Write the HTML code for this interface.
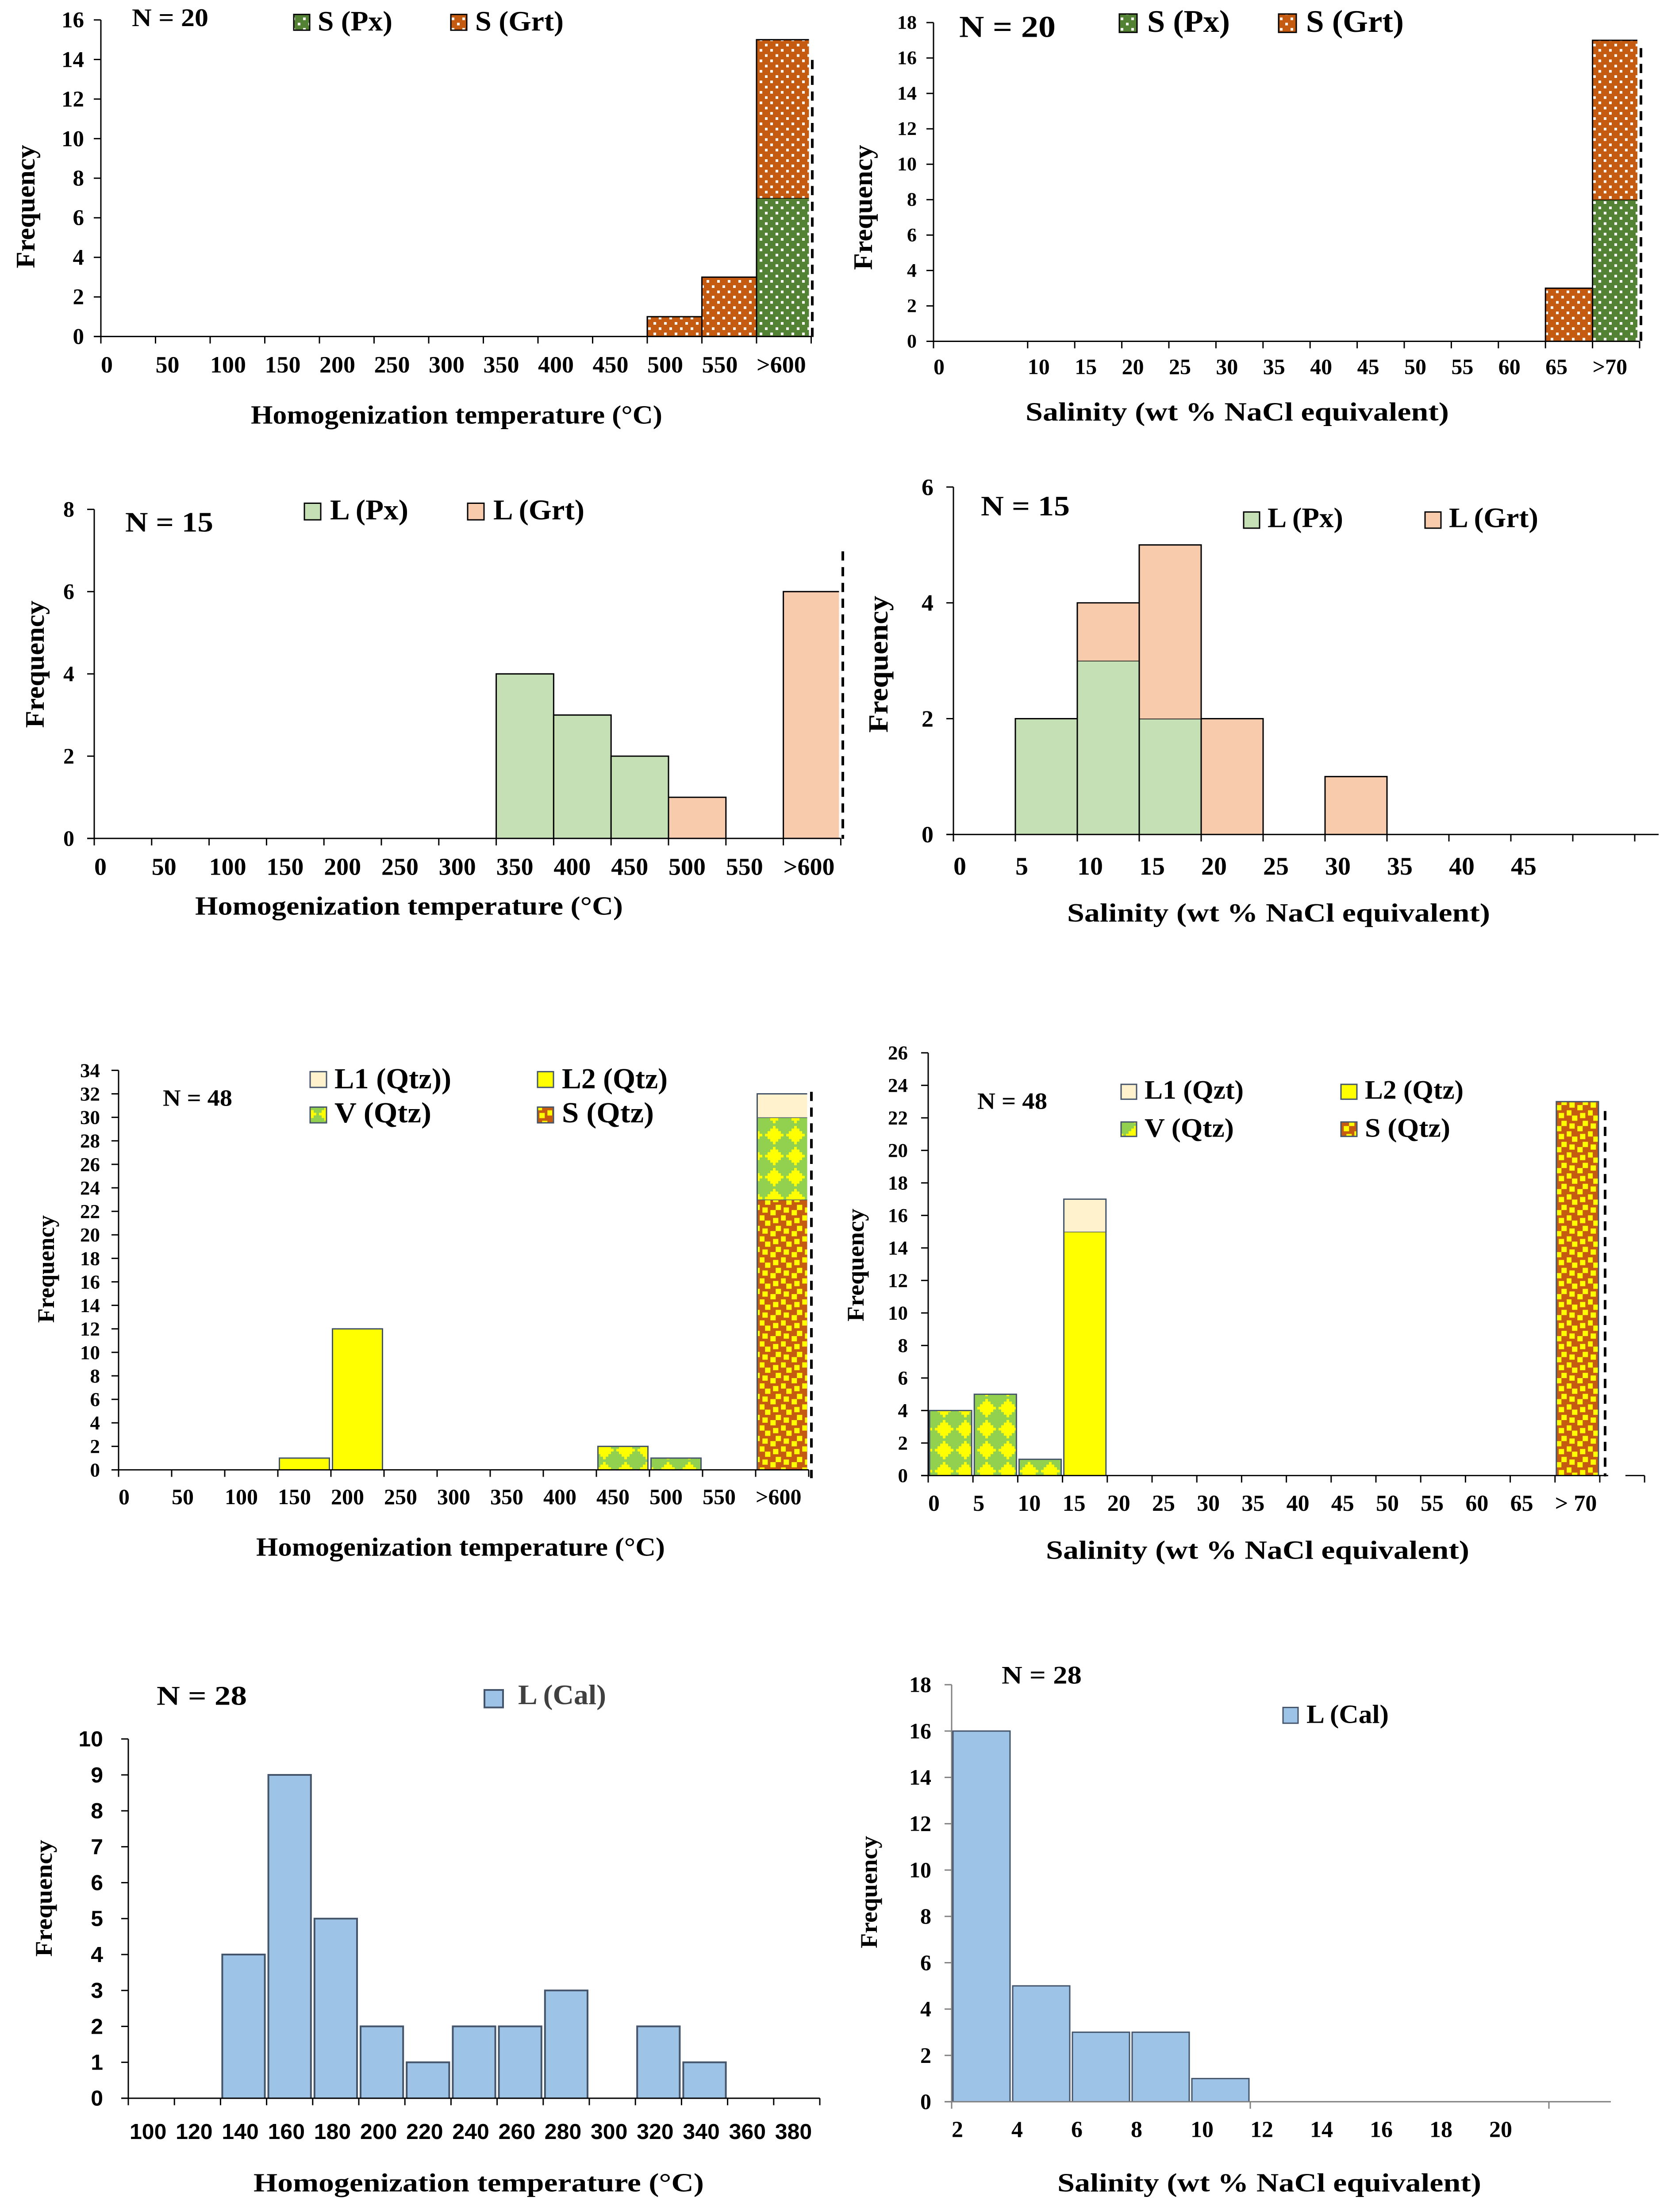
<!DOCTYPE html>
<html lang="en">
<head>
<meta charset="utf-8">
<title>Fluid inclusion histograms</title>
<style>
html,body{margin:0;padding:0;background:#fff;width:100%;height:100%;overflow:hidden;}
svg{display:block;width:100vw;height:100vh;}
text{font-family:"Liberation Serif",serif;font-weight:bold;fill:#000;dominant-baseline:central;}
.sans{font-family:"Liberation Sans",sans-serif;}
.gray{fill:#404040;}
</style>
</head>
<body>
<svg id="figure" xmlns="http://www.w3.org/2000/svg" viewBox="0 0 3786 5055" preserveAspectRatio="none">
<defs>
<pattern id="dots-orange" patternUnits="userSpaceOnUse" width="24" height="24">
<rect width="24" height="24" fill="#C55A11"/><rect x="13" y="16" width="6" height="6" fill="#fff"/><rect x="1" y="4" width="6" height="6" fill="#fff"/>
</pattern>
<pattern id="dots-green" patternUnits="userSpaceOnUse" width="24" height="24">
<rect width="24" height="24" fill="#548235"/><rect x="13" y="16" width="6" height="6" fill="#fff"/><rect x="1" y="4" width="6" height="6" fill="#fff"/>
</pattern>
<pattern id="diamonds" patternUnits="userSpaceOnUse" width="48" height="48" x="-2" y="-22">
<rect width="48" height="48" fill="#92D050"/>
<g fill="#FFFF00"><rect x="3" y="21" width="42" height="6"/><rect x="9" y="15" width="30" height="18"/><rect x="15" y="9" width="18" height="30"/><rect x="21" y="3" width="6" height="42"/></g>
</pattern>
<pattern id="squares" patternUnits="userSpaceOnUse" width="48" height="48">
<rect width="48" height="48" fill="#C55A11"/>
<g fill="#FFFF00"><rect x="43.3" y="23.3" width="12" height="12"/><rect x="-4.7" y="23.3" width="12" height="12"/><rect x="13.3" y="29.3" width="12" height="12"/><rect x="25.3" y="17.3" width="12" height="12"/><rect x="37.3" y="41.3" width="12" height="12"/><rect x="37.3" y="-6.7" width="12" height="12"/><rect x="1.3" y="5.3" width="12" height="12"/><rect x="19.3" y="47.3" width="12" height="12"/><rect x="19.3" y="-0.7" width="12" height="12"/></g>
</pattern>
</defs>
<rect width="3786" height="5055" fill="#fff"/>

<g id="chart-1">
<text transform="translate(58,472) rotate(-90)" text-anchor="middle" font-size="60" textLength="282" lengthAdjust="spacingAndGlyphs">Frequency</text>
<text x="567" y="948" font-size="60" textLength="930" lengthAdjust="spacingAndGlyphs">Homogenization temperature (°C)</text>
<text x="298" y="41" font-size="58" textLength="173" lengthAdjust="spacingAndGlyphs">N = 20</text>
<rect x="664" y="33" width="36" height="36" fill="url(#dots-green)" stroke="#000" stroke-width="3"/>
<text x="718" y="48" font-size="64" textLength="169" lengthAdjust="spacingAndGlyphs">S (Px)</text>
<rect x="1019" y="33" width="36" height="36" fill="url(#dots-orange)" stroke="#000" stroke-width="3"/>
<text x="1074" y="48" font-size="64" textLength="200" lengthAdjust="spacingAndGlyphs">S (Grt)</text>
</g>

<g id="chart-2">
<text transform="translate(1951,474) rotate(-90)" text-anchor="middle" font-size="60" textLength="286" lengthAdjust="spacingAndGlyphs">Frequency</text>
<text x="2318" y="941" font-size="60" textLength="957" lengthAdjust="spacingAndGlyphs">Salinity (wt % NaCl equivalent)</text>
<text x="2168" y="62" font-size="70" textLength="218" lengthAdjust="spacingAndGlyphs">N = 20</text>
<rect x="2530" y="32" width="40" height="42" fill="url(#dots-green)" stroke="#000" stroke-width="3"/>
<text x="2593" y="49" font-size="72" textLength="187" lengthAdjust="spacingAndGlyphs">S (Px)</text>
<rect x="2890" y="32" width="40" height="42" fill="url(#dots-orange)" stroke="#000" stroke-width="3"/>
<text x="2952" y="49" font-size="72" textLength="221" lengthAdjust="spacingAndGlyphs">S (Grt)</text>
</g>

<g id="chart-3">
<text transform="translate(79,1518) rotate(-90)" text-anchor="middle" font-size="60" textLength="291" lengthAdjust="spacingAndGlyphs">Frequency</text>
<text x="441" y="2070" font-size="60" textLength="967" lengthAdjust="spacingAndGlyphs">Homogenization temperature (°C)</text>
<text x="283" y="1193" font-size="64" textLength="199" lengthAdjust="spacingAndGlyphs">N = 15</text>
<rect x="688" y="1150" width="37" height="38" fill="#C5E0B4" stroke="#000" stroke-width="3"/>
<text x="746" y="1165" font-size="65" textLength="177" lengthAdjust="spacingAndGlyphs">L (Px)</text>
<rect x="1057" y="1150" width="37" height="38" fill="#F8CBAD" stroke="#000" stroke-width="3"/>
<text x="1115" y="1165" font-size="65" textLength="206" lengthAdjust="spacingAndGlyphs">L (Grt)</text>
</g>

<g id="chart-4">
<text transform="translate(1986,1518) rotate(-90)" text-anchor="middle" font-size="62" textLength="313" lengthAdjust="spacingAndGlyphs">Frequency</text>
<text x="2412" y="2086" font-size="60" textLength="956" lengthAdjust="spacingAndGlyphs">Salinity (wt % NaCl equivalent)</text>
<text x="2217" y="1156" font-size="64" textLength="201" lengthAdjust="spacingAndGlyphs">N = 15</text>
<rect x="2811" y="1170" width="36" height="37" fill="#C5E0B4" stroke="#000" stroke-width="3"/>
<text x="2865" y="1183" font-size="64" textLength="171" lengthAdjust="spacingAndGlyphs">L (Px)</text>
<rect x="3221" y="1170" width="36" height="37" fill="#F8CBAD" stroke="#000" stroke-width="3"/>
<text x="3275" y="1183" font-size="64" textLength="202" lengthAdjust="spacingAndGlyphs">L (Grt)</text>
</g>

<g id="chart-5">
<text transform="translate(104,2900) rotate(-90)" text-anchor="middle" font-size="54" textLength="246" lengthAdjust="spacingAndGlyphs">Frequency</text>
<text x="579" y="3535" font-size="60" textLength="924" lengthAdjust="spacingAndGlyphs">Homogenization temperature (°C)</text>
<text x="368" y="2509" font-size="54" textLength="157" lengthAdjust="spacingAndGlyphs">N = 48</text>
<rect x="701" y="2449" width="37" height="36" fill="#FFF2CC" stroke="#44546A" stroke-width="3"/>
<text x="756" y="2466" font-size="66" textLength="264" lengthAdjust="spacingAndGlyphs">L1 (Qtz))</text>
<rect x="1215" y="2449" width="36" height="36" fill="#FFFF00" stroke="#44546A" stroke-width="3"/>
<text x="1270" y="2466" font-size="66" textLength="239" lengthAdjust="spacingAndGlyphs">L2 (Qtz)</text>
<rect x="701" y="2530" width="37" height="36" fill="url(#diamonds)" stroke="#44546A" stroke-width="3"/>
<text x="756" y="2544" font-size="66" textLength="219" lengthAdjust="spacingAndGlyphs">V (Qtz)</text>
<rect x="1215" y="2530" width="36" height="36" fill="url(#squares)" stroke="#44546A" stroke-width="3"/>
<text x="1270" y="2544" font-size="66" textLength="208" lengthAdjust="spacingAndGlyphs">S (Qtz)</text>
</g>

<g id="chart-6">
<text transform="translate(1934,2891) rotate(-90)" text-anchor="middle" font-size="54" textLength="258" lengthAdjust="spacingAndGlyphs">Frequency</text>
<text x="2364" y="3542" font-size="60" textLength="957" lengthAdjust="spacingAndGlyphs">Salinity (wt % NaCl equivalent)</text>
<text x="2209" y="2516" font-size="54" textLength="158" lengthAdjust="spacingAndGlyphs">N = 48</text>
<rect x="2534" y="2478" width="35" height="34" fill="#FFF2CC" stroke="#44546A" stroke-width="3"/>
<text x="2587" y="2491" font-size="61" textLength="224" lengthAdjust="spacingAndGlyphs">L1 (Qzt)</text>
<rect x="3031" y="2478" width="36" height="34" fill="#FFFF00" stroke="#44546A" stroke-width="3"/>
<text x="3085" y="2491" font-size="61" textLength="223" lengthAdjust="spacingAndGlyphs">L2 (Qtz)</text>
<rect x="2534" y="2564" width="35" height="33" fill="url(#diamonds)" stroke="#44546A" stroke-width="3"/>
<text x="2587" y="2578" font-size="61" textLength="202" lengthAdjust="spacingAndGlyphs">V (Qtz)</text>
<rect x="3031" y="2564" width="36" height="33" fill="url(#squares)" stroke="#44546A" stroke-width="3"/>
<text x="3085" y="2578" font-size="61" textLength="193" lengthAdjust="spacingAndGlyphs">S (Qtz)</text>
</g>

<g id="chart-7">
<text transform="translate(99,4338) rotate(-90)" text-anchor="middle" font-size="54" textLength="267" lengthAdjust="spacingAndGlyphs">Frequency</text>
<text x="573" y="4988" font-size="60" textLength="1018" lengthAdjust="spacingAndGlyphs">Homogenization temperature (°C)</text>
<text x="354" y="3876" font-size="62" textLength="204" lengthAdjust="spacingAndGlyphs">N = 28</text>
<rect x="1095" y="3862" width="42" height="40" fill="#9DC3E6" stroke="#44546A" stroke-width="4"/>
<text class="gray" x="1171" y="3873" font-size="64" textLength="199" lengthAdjust="spacingAndGlyphs">L (Cal)</text>
</g>

<g id="chart-8">
<text transform="translate(1964,4324) rotate(-90)" text-anchor="middle" font-size="54" textLength="257" lengthAdjust="spacingAndGlyphs">Frequency</text>
<text x="2390" y="4988" font-size="60" textLength="958" lengthAdjust="spacingAndGlyphs">Salinity (wt % NaCl equivalent)</text>
<text x="2264" y="3829" font-size="58" textLength="181" lengthAdjust="spacingAndGlyphs">N = 28</text>
<rect x="2900" y="3902" width="34" height="36" fill="#9DC3E6" stroke="#44546A" stroke-width="3"/>
<text x="2953" y="3917" font-size="60" textLength="186" lengthAdjust="spacingAndGlyphs">L (Cal)</text>
</g>
</svg>

<script>
// ---- Chart data ----
const chart1Bins = ['0','50','100','150','200','250','300','350','400','450','500','550','>600'];
const chart1YTicks = [0,2,4,6,8,10,12,14,16];
const chart1SPx = [0,0,0,0,0,0,0,0,0,0,0,0,7];
const chart1SGrt = [0,0,0,0,0,0,0,0,0,0,1,3,8];

const chart2Bins = ['0','','10','15','20','25','30','35','40','45','50','55','60','65','>70'];
const chart2YTicks = [0,2,4,6,8,10,12,14,16,18];
const chart2SPx = [0,0,0,0,0,0,0,0,0,0,0,0,0,0,8];
const chart2SGrt = [0,0,0,0,0,0,0,0,0,0,0,0,0,3,9];

const chart3Bins = ['0','50','100','150','200','250','300','350','400','450','500','550','>600'];
const chart3YTicks = [0,2,4,6,8];
const chart3LPx = [0,0,0,0,0,0,0,4,3,2,0,0,0];
const chart3LGrt = [0,0,0,0,0,0,0,0,0,0,1,0,6];

const chart4Bins = ['0','5','10','15','20','25','30','35','40','45','',''];
const chart4YTicks = [0,2,4,6];
const chart4LPx = [0,2,3,2,0,0,0,0,0,0,0];
const chart4LGrt = [0,0,1,3,2,0,1,0,0,0,0];

const chart5Bins = ['0','50','100','150','200','250','300','350','400','450','500','550','>600'];
const chart5YTicks = [0,2,4,6,8,10,12,14,16,18,20,22,24,26,28,30,32,34];
const chart5SQtz = [0,0,0,0,0,0,0,0,0,0,0,0,23];
const chart5VQtz = [0,0,0,0,0,0,0,0,0,2,1,0,7];
const chart5L2Qtz = [0,0,0,1,12,0,0,0,0,0,0,0,0];
const chart5L1Qtz = [0,0,0,0,0,0,0,0,0,0,0,0,2];

const chart6Bins = ['0','5','10','15','20','25','30','35','40','45','50','55','60','65','> 70',''];
const chart6YTicks = [0,2,4,6,8,10,12,14,16,18,20,22,24,26];
const chart6SQtz = [0,0,0,0,0,0,0,0,0,0,0,0,0,0,23,0];
const chart6VQtz = [4,5,1,0,0,0,0,0,0,0,0,0,0,0,0,0];
const chart6L2Qtz = [0,0,0,15,0,0,0,0,0,0,0,0,0,0,0,0];
const chart6L1Qtz = [0,0,0,2,0,0,0,0,0,0,0,0,0,0,0,0];

const chart7Bins = ['100','120','140','160','180','200','220','240','260','280','300','320','340','360','380'];
const chart7YTicks = [0,1,2,3,4,5,6,7,8,9,10];
const chart7LCal = [0,0,4,9,5,2,1,2,2,3,0,2,1,0,0];

const chart8Bins = ['2','4','6','8','10','12','14','16','18','20'];
const chart8YTicks = [0,2,4,6,8,10,12,14,16,18];
const chart8LCal = [16,5,3,3,1,0,0,0,0,0];

// ---- Chart layouts (axis geometry and styling) ----
const charts = [
 {id:'chart-1',labels:chart1Bins,yTicks:chart1YTicks,x0:228,step:123.5,bins:13,y0:769,yTop:45.5,
  series:[{name:'s-px',values:chart1SPx,fill:'url(#dots-green)'},{name:'s-grt',values:chart1SGrt,fill:'url(#dots-orange)'}],
  xFont:54,yFont:51,yRight:190,xLabelY:833,gap:0,lastTrim:5,openLast:true,stroke:'#000',sw:3,axis:'#000',
  dash:{x:1836,y1:137,y2:772}},
 {id:'chart-2',labels:chart2Bins,yTicks:chart2YTicks,x0:2110,step:106.4,bins:15,y0:780,yTop:51.6,skipTick:[1],
  series:[{name:'s-px',values:chart2SPx,fill:'url(#dots-green)'},{name:'s-grt',values:chart2SGrt,fill:'url(#dots-orange)'}],
  xFont:50,yFont:44,yRight:2072,xLabelY:838,gap:0,lastTrim:5,openLast:true,stroke:'#000',sw:3,axis:'#000',
  dash:{x:3709,y1:110,y2:783}},
 {id:'chart-3',labels:chart3Bins,yTicks:chart3YTicks,x0:213,step:129.8,bins:13,y0:1916,yTop:1164,
  series:[{name:'l-px',values:chart3LPx,fill:'#C5E0B4'},{name:'l-grt',values:chart3LGrt,fill:'#F8CBAD'}],
  xFont:56,yFont:50,yRight:168,xLabelY:1981,gap:0,lastTrim:4,openLast:true,stroke:'#000',sw:3,axis:'#000',
  dash:{x:1905,y1:1260,y2:1917}},
 {id:'chart-4',labels:chart4Bins,yTicks:chart4YTicks,x0:2155,step:140,bins:11,y0:1907,yTop:1113,axisEnd:3749,
  series:[{name:'l-px',values:chart4LPx,fill:'#C5E0B4'},{name:'l-grt',values:chart4LGrt,fill:'#F8CBAD'}],
  xFont:58,yFont:54,yRight:2110,xLabelY:1980,gap:0,lastTrim:0,openLast:false,stroke:'#000',sw:3,axis:'#000'},
 {id:'chart-5',labels:chart5Bins,yTicks:chart5YTicks,x0:268,step:120,bins:13,y0:3359,yTop:2446,
  series:[{name:'s-qtz',values:chart5SQtz,fill:'url(#squares)'},{name:'v-qtz',values:chart5VQtz,fill:'url(#diamonds)'},{name:'l2-qtz',values:chart5L2Qtz,fill:'#FFFF00'},{name:'l1-qtz',values:chart5L1Qtz,fill:'#FFF2CC'}],
  xFont:50,yFont:45,yRight:226,xLabelY:3421,gap:3.5,lastTrim:0,openLast:true,stroke:'#44546A',sw:3,axis:'#000',
  dash:{x:1834,y1:2495,y2:3378}},
 {id:'chart-6',labels:chart6Bins,yTicks:chart6YTicks,x0:2098,step:101.2,bins:16,y0:3372,yTop:2406,axisGap:[3635,3674],
  series:[{name:'s-qtz',values:chart6SQtz,fill:'url(#squares)'},{name:'v-qtz',values:chart6VQtz,fill:'url(#diamonds)'},{name:'l2-qtz',values:chart6L2Qtz,fill:'#FFFF00'},{name:'l1-qzt',values:chart6L1Qtz,fill:'#FFF2CC'}],
  xFont:52,yFont:45,yRight:2052,xLabelY:3436,gap:3,lastTrim:0,openLast:false,stroke:'#44546A',sw:3,axis:'#000',
  dash:{x:3628,y1:2539,y2:3374}},
 {id:'chart-7',labels:chart7Bins,yTicks:chart7YTicks,x0:290,step:104.2,bins:15,y0:4795,yTop:3974,
  series:[{name:'l-cal',values:chart7LCal,fill:'#9DC3E6'}],
  xFont:50,yFont:50,yRight:233,xLabelY:4871,xLabelPad:3,sans:true,gap:4,lastTrim:0,openLast:false,stroke:'#44546A',sw:4,axis:'#000'},
 {id:'chart-8',labels:chart8Bins,yTicks:chart8YTicks,x0:2151,step:135,bins:15,y0:4803,yTop:3850,axisEnd:3641,xTickAt:[0,5,10],
  series:[{name:'l-cal',values:chart8LCal,fill:'#9DC3E6'}],
  xFont:52,yFont:50,yRight:2105,xLabelY:4867,gap:3,lastTrim:0,openLast:false,stroke:'#44546A',sw:3,axis:'#808080'}
];

const SVG_NS = 'http://www.w3.org/2000/svg';
function mk(tag, attrs, parent, content){
  const node = document.createElementNS(SVG_NS, tag);
  for (const k in attrs) node.setAttribute(k, attrs[k]);
  if (content !== undefined) node.textContent = content;
  parent.appendChild(node);
  return node;
}

function drawChart(c){
  const root = document.getElementById(c.id);
  const yMax = c.yTicks[c.yTicks.length - 1];
  const xAxis = function(i){ return c.x0 + i * c.step; };
  const yAxis = function(v){ return c.y0 - (v / yMax) * (c.y0 - c.yTop); };
  const axisRight = c.axisEnd || xAxis(c.bins);

  // bars, stacked in series order
  const stackTotals = [];
  c.series.forEach(function(s){
    s.values.forEach(function(v, i){
      const base = stackTotals[i] || 0;
      stackTotals[i] = base + v;
      if (!v) return;
      const isLast = i === c.bins - 1;
      const left = xAxis(i) + c.gap;
      const right = xAxis(i + 1) - c.gap - (isLast ? c.lastTrim : 0);
      const top = yAxis(base + v);
      const bottom = yAxis(base);
      const open = isLast && c.openLast;
      const fill = mk('rect', {x:left, y:top, width:right - left, height:bottom - top, fill:s.fill}, root);
      
      
      const d = 'M' + left + ' ' + bottom + 'V' + top + 'H' + right + (open ? '' : 'V' + bottom);
      const outline = mk('path', {d:d, fill:'none', stroke:c.stroke, 'stroke-width':c.sw}, root);
      
      
    });
  });

  // y axis, ticks and labels
  const yLine = mk('line', {x1:c.x0, x2:c.x0, y1:c.yTop, y2:c.y0 + 2, stroke:c.axis, 'stroke-width':3}, root);
  
  
  c.yTicks.forEach(function(v){
    const tick = mk('line', {x1:c.x0 - 16, x2:c.x0, y1:yAxis(v), y2:yAxis(v), stroke:c.axis, 'stroke-width':3}, root);
    
    
    const attrs = {x:c.yRight, y:yAxis(v), 'text-anchor':'end', 'font-size':c.yFont};
    if (c.sans) attrs['class'] = 'sans';
    const label = mk('text', attrs, root, String(v));
    
    
  });

  // x axis, ticks and labels
  const xLine = mk('line', {x1:c.x0 - 16, x2:axisRight, y1:c.y0, y2:c.y0, stroke:c.axis, 'stroke-width':3}, root);
  
  
  if (c.axisGap){
    const gapCover = mk('rect', {x:c.axisGap[0], y:c.y0 - 3, width:c.axisGap[1] - c.axisGap[0], height:6, fill:'#fff'}, root);
    
    
  }
  for (let i = 0; i <= c.bins; i++){
    if (c.xTickAt && c.xTickAt.indexOf(i) < 0) continue;
    if (c.skipTick && c.skipTick.indexOf(i) >= 0) continue;
    const tick = mk('line', {x1:xAxis(i), x2:xAxis(i), y1:c.y0, y2:c.y0 + 16, stroke:c.axis, 'stroke-width':3}, root);
    
    
  }
  c.labels.forEach(function(t, i){
    if (!t) return;
    const attrs = {x:xAxis(i) + (c.xLabelPad || 0), y:c.xLabelY, 'font-size':c.xFont};
    if (c.sans) attrs['class'] = 'sans';
    const label = mk('text', attrs, root, t);
    
    
  });

  // dashed boundary line
  if (c.dash){
    const dash = mk('line', {x1:c.dash.x, x2:c.dash.x, y1:c.dash.y1, y2:c.dash.y2, stroke:'#000', 'stroke-width':6, 'stroke-dasharray':'21 15'}, root);
    
    
  }
}
charts.forEach(drawChart);
</script>
</body>
</html>
